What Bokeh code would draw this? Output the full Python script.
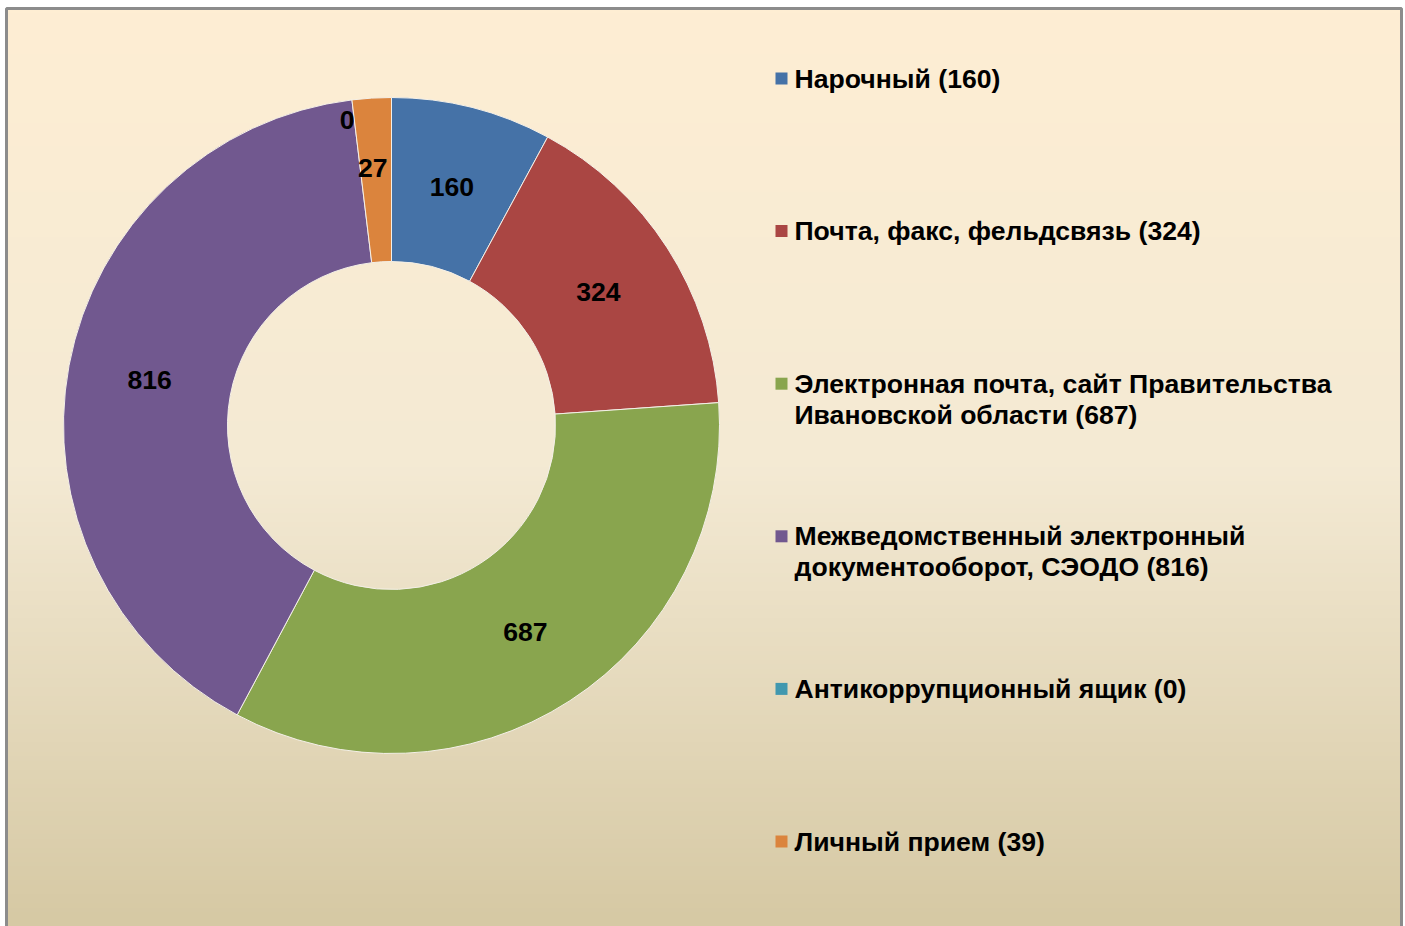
import numpy as np
from bokeh.plotting import figure
from bokeh.models import ColumnDataSource, Range1d
from bokeh.core.properties import value
from bokeh.embed import file_html
from bokeh.resources import INLINE

# ---- data ----
categories = [
    "Нарочный",
    "Почта, факс, фельдсвязь",
    "Электронная почта, сайт Правительства\nИвановской области",
    "Межведомственный электронный\nдокументооборот, СЭОДО",
    "Антикоррупционный ящик",
    "Личный прием",
]
values = [160, 324, 687, 816, 0, 39]
slice_labels = ["160", "324", "687", "816", "0", "27"]
colors = ["#4572A7", "#AA4643", "#89A54E", "#71588F", "#4198AF", "#DB843D"]

W, H = 1405, 926
FONT = value("Liberation Sans")
FS = "26.6px"

p = figure(width=W, height=H, output_backend="svg", toolbar_location=None,
           x_range=Range1d(0, W), y_range=Range1d(0, H), min_border=0,
           match_aspect=False)
p.axis.visible = False
p.grid.visible = False
p.outline_line_color = None
p.background_fill_color = "#FFFFFF"
p.border_fill_color = "#FFFFFF"

# ---- background gradient (inside frame) ----
N = 200
ys = np.linspace(0, 1, N)  # 0 = bottom, 1 = top
top = np.array([254, 238, 211]); mid = np.array([244, 234, 212]); bot = np.array([214, 201, 164])
cols = np.zeros((N, 3))
for i, t in enumerate(ys):
    if t < 0.5:
        cols[i] = bot + (mid - bot) * (t / 0.5)
    else:
        cols[i] = mid + (top - mid) * ((t - 0.5) / 0.5)
img = np.zeros((N, 1), dtype=np.uint32)
view = img.view(dtype=np.uint8).reshape((N, 1, 4))
view[:, 0, 0] = cols[:, 0].astype(np.uint8)
view[:, 0, 1] = cols[:, 1].astype(np.uint8)
view[:, 0, 2] = cols[:, 2].astype(np.uint8)
view[:, 0, 3] = 255
fx0, fx1, fytop = 6, 1401, H - 8
p.image_rgba(image=[img], x=fx0, y=0, dw=fx1 - fx0, dh=fytop)

# frame border (left, top, right)
p.line(x=[fx0, fx0, fx1, fx1], y=[-10, fytop, fytop, -10],
       line_color="#8C8C8C", line_width=3)

# ---- donut ----
cx, cy = 391, H - 425
r_out, r_in = 328, 164
total = float(sum(values))
fr = np.array(values) / total
cum = np.concatenate([[0], np.cumsum(fr)])
start = np.pi / 2 - 2 * np.pi * cum[:-1]
end = np.pi / 2 - 2 * np.pi * cum[1:]
keep = [i for i, v in enumerate(values) if v > 0]
src = ColumnDataSource(dict(start=start[keep], end=end[keep],
                            color=[colors[i] for i in keep]))
p.annular_wedge(x=cx, y=cy, inner_radius=r_in, outer_radius=r_out,
                start_angle="start", end_angle="end", direction="clock",
                fill_color="color", line_color="#F4F0E8", line_width=1, source=src)

# slice labels (small slices nudged outward as in the original)
mid_ang = np.pi / 2 - 2 * np.pi * (cum[:-1] + cum[1:]) / 2
lab_r = np.array([246.0, 246.0, 246.0, 246.0, 309.0, 258.0])
ang_nudge = np.radians([0, 0, 0, 0, 1.3, 0.7])
lx = cx + lab_r * np.cos(mid_ang + ang_nudge)
ly = cy + lab_r * np.sin(mid_ang + ang_nudge)
p.text(x=lx, y=ly, text=slice_labels, text_align="center", text_baseline="middle",
       text_font=FONT, text_font_style="bold", text_font_size=FS, text_color="#000000")

# ---- legend ----
leg_x_mark = 781
leg_x_text = 794
leg_y0 = H - 78
leg_step = 152.6
line_h = 31
mx, my, mc = [], [], []
tx, ty, tt = [], [], []
for i, (name, v, c) in enumerate(zip(categories, values, colors)):
    yy = leg_y0 - i * leg_step
    mx.append(leg_x_mark); my.append(yy); mc.append(c)
    lines = f"{name} ({v})".split("\n")
    for j, ln in enumerate(lines):
        tx.append(leg_x_text); ty.append(yy - j * line_h); tt.append(ln)
p.rect(x=mx, y=my, width=12, height=12, fill_color=mc, line_color=None)
p.text(x=tx, y=ty, text=tt, text_align="left", text_baseline="middle",
       text_font=FONT, text_font_style="bold", text_font_size=FS, text_color="#000000")

open("out.html", "w").write(file_html(p, INLINE))
